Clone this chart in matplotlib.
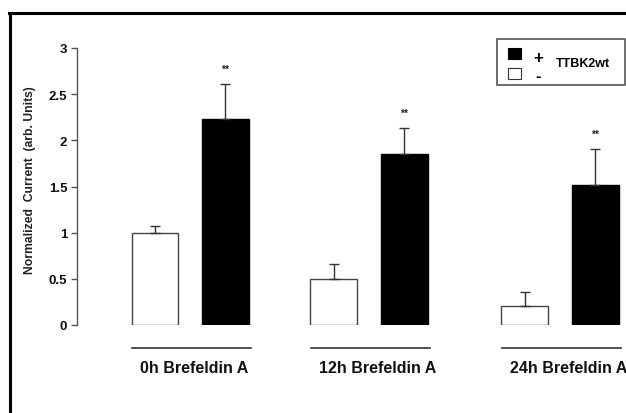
import matplotlib
matplotlib.use("Agg")
import matplotlib.pyplot as plt
from matplotlib.patches import Rectangle
from matplotlib.lines import Line2D

plt.rcParams["font.family"] = ["Liberation Sans", "DejaVu Sans"]
plt.rcParams["font.weight"] = "bold"

groups = ["0h Brefeldin A", "12h Brefeldin A", "24h Brefeldin A"]
ctrl_mean = [1.00, 0.50, 0.21]
ctrl_err = [0.07, 0.16, 0.15]
ttbk_mean = [2.23, 1.85, 1.52]
ttbk_err = [0.38, 0.28, 0.39]
signif = ["**", "**", "**"]
group_pos = [1.64, 4.23, 7.00]

W, H = 626, 414
fig = plt.figure(figsize=(W / 100, H / 100), dpi=100)

def fx(px):
    return px / W

def fy(py):
    return 1 - py / H

ax = fig.add_axes([fx(77), fy(326), fx(626) - fx(77), fy(49) - fy(326)])

w = 0.68
xc = [p - 0.51 for p in group_pos]
xt = [p + 0.51 for p in group_pos]
dark = "#333333"

ax.bar(xc, ctrl_mean, width=w, color="white", edgecolor="#444444", linewidth=1.0)
ax.bar(xt, ttbk_mean, width=w, color="black", edgecolor="black", linewidth=1.0)
ax.errorbar(xc, ctrl_mean, yerr=[[0] * 3, ctrl_err], fmt="none", ecolor=dark,
            elinewidth=1.0, capsize=3.5, capthick=1.0)
ax.errorbar(xt, ttbk_mean, yerr=[[0] * 3, ttbk_err], fmt="none", ecolor=dark,
            elinewidth=1.0, capsize=3.5, capthick=1.0)

for x, m, e, s in zip(xt, ttbk_mean, ttbk_err, signif):
    ax.annotate(s, (x, m + e), xytext=(0, 11), textcoords="offset points",
                ha="center", va="center", fontsize=7.5, color="#222222")

# group underlines and labels below the axis (the last label runs off the right edge)
for p, name in zip(group_pos, groups):
    ax.plot([p - 0.84, p + 0.88], [-0.245, -0.245], color=dark, lw=1.2,
            clip_on=False)
    ax.text(p - 0.85 + 0.13, -0.46, name, ha="left", va="center", fontsize=11.5,
            fontweight="bold", color="#111111", clip_on=False)

ax.set_ylim(0, 3)
ax.set_xlim(0, (626 - 77) / 69)
ax.set_yticks([0, 0.5, 1, 1.5, 2, 2.5, 3])
ax.set_yticklabels(["0", "0.5", "1", "1.5", "2", "2.5", "3"])
ax.tick_params(axis="y", length=4, width=1, color="#555555", labelsize=9.5,
               pad=3, labelcolor="#111111")
ax.set_xticks([])
for side in ["top", "right", "bottom"]:
    ax.spines[side].set_visible(False)
ax.spines["left"].set_color("#555555")
ax.spines["left"].set_linewidth(1.0)
ax.set_ylabel("Normalized  Current  (arb. Units)", fontsize=8.7,
              fontweight="bold", color="#222222")
ax.yaxis.set_label_coords(-0.074, 0.527)
ax.patch.set_visible(False)

# legend box
fig.add_artist(Rectangle((fx(497), fy(86)), fx(625) - fx(497), fy(40) - fy(86),
                         transform=fig.transFigure, facecolor="white",
                         edgecolor="#555555", linewidth=1.2))
fig.add_artist(Rectangle((fx(508), fy(60)), fx(13), fy(0) - fy(11),
                         transform=fig.transFigure, facecolor="black",
                         edgecolor="black", linewidth=0.8))
fig.add_artist(Rectangle((fx(508), fy(80)), fx(13), fy(0) - fy(11),
                         transform=fig.transFigure, facecolor="white",
                         edgecolor="#333333", linewidth=0.8))
fig.text(fx(538), fy(58), "+", ha="center", va="center", fontsize=12,
         fontweight="bold")
fig.text(fx(538), fy(76), "-", ha="center", va="center", fontsize=12,
         fontweight="bold")
fig.text(fx(556), fy(64), "TTBK2wt", ha="left", va="center", fontsize=9,
         fontweight="bold")

# outer frame (left and top edges)
fig.add_artist(Line2D([fx(9.5), fx(9.5)], [0, fy(14)], transform=fig.transFigure,
                      color="black", lw=2.2))
fig.add_artist(Line2D([fx(8.5), 1], [fy(14), fy(14)], transform=fig.transFigure,
                      color="black", lw=2.2))

fig.savefig("out.png", dpi=100)
